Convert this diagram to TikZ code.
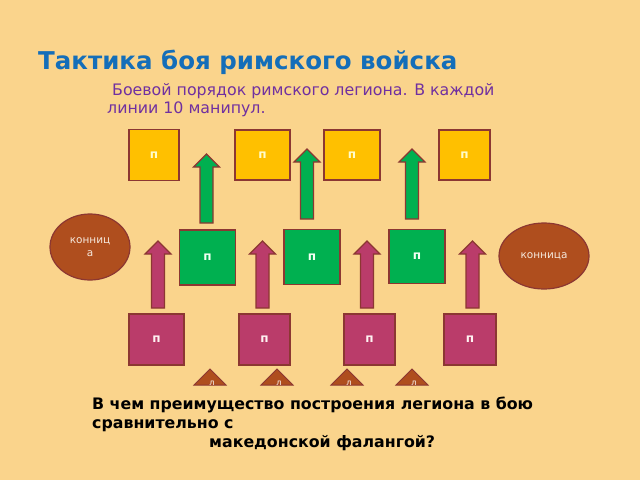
\documentclass[tikz,border=0pt]{standalone}
\usepackage{fontspec}
\setmainfont{DejaVu Sans}
\usetikzlibrary{positioning, shapes.geometric}

\definecolor{bgsand}{RGB}{250,212,140}
\definecolor{titleblue}{RGB}{20,110,185}
\definecolor{subpurple}{RGB}{112,48,160}
\definecolor{boxyellow}{RGB}{255,192,0}
\definecolor{boxgreen}{RGB}{0,176,80}
\definecolor{boxrose}{RGB}{186,60,106}
\definecolor{horsebrown}{RGB}{175,78,30}
\definecolor{edgebrown}{RGB}{140,55,50}
\definecolor{paletext}{RGB}{245,232,220}

% block arrow: colour, x, tip y, bottom y
\newcommand{\blockup}[4]{
	\draw[blockarrow, fill=#1] ({#2-6.5},#4) -- ({#2-6.5},{#3+13}) -- ({#2-13},{#3+13}) -- (#2,#3)
		-- ({#2+13},{#3+13}) -- ({#2+6.5},{#3+13}) -- ({#2+6.5},#4) -- cycle;
}

\begin{document}
\begin{tikzpicture}[x=1pt, y=-1pt, line join=miter]
	
	\tikzset{
		manip/.style={draw=edgebrown, line width=1.2pt, inner sep=0pt, text=white,
			minimum width=51pt, minimum height=51pt, font=\fontsize{12}{12}\selectfont\bfseries},
		hastati/.style={manip, fill=boxyellow, text=yellow!20},
		principes/.style={manip, fill=boxgreen, text=green!5},
		triarii/.style={manip, fill=boxrose, text=red!5},
		cavalry/.style={ellipse, draw=edgebrown, line width=1.2pt, fill=horsebrown, text=paletext,
			inner sep=0pt, align=center, font=\fontsize{10.5}{13}\selectfont},
		blockarrow/.style={draw=edgebrown, line width=1.2pt},
		velite/.style={draw=edgebrown, line width=1pt, fill=horsebrown},
		velitetxt/.style={text=white, inner sep=0pt, font=\fontsize{8}{8}\selectfont},
		caption/.style={anchor=base west, inner sep=0pt}
	}
	
	\useasboundingbox[fill=bgsand] (0,0) rectangle (640,480);
	
	\node[caption, text=titleblue, font=\fontsize{24.5}{24.5}\selectfont\bfseries] (title) at (38,69)
		{Тактика боя римского войска};
	\node[caption, text=subpurple, font=\fontsize{15.8}{15.8}\selectfont] (sub1) at (112,95)
		{Боевой порядок римского легиона. В каждой};
	\node[caption, text=subpurple, font=\fontsize{15.8}{15.8}\selectfont] (sub2) at (107,113)
		{линии 10 манипул.};
	
	% first line
	\node[hastati, minimum width=50pt] (h1) at (154,155) {п};
	\node[hastati, minimum width=55pt, minimum height=50pt] (h2) at (262.5,155) {п};
	\node[hastati, minimum width=56pt, minimum height=50pt] (h3) at (352,155) {п};
	\node[hastati, minimum height=50pt] (h4) at (464.5,155) {п};
	
	\blockup{boxgreen}{206.5}{154}{223}
	\blockup{boxgreen}{307}{149}{219}
	\blockup{boxgreen}{412}{149}{219}
	
	% second line
	\node[principes, minimum width=56pt, minimum height=55pt] (p1) at (207.5,257.5) {п};
	\node[principes, minimum width=56pt, minimum height=55pt] (p2) at (312,257) {п};
	\node[principes, minimum width=56pt, minimum height=54pt] (p3) at (417,256.5) {п};
	
	\node[cavalry, minimum width=80pt, minimum height=66pt] (cavL) at (90,247) {конниц\\а};
	\node[cavalry, minimum width=90pt, minimum height=66pt] (cavR) at (544,256) {конница};
	
	\blockup{boxrose}{158}{241}{308}
	\blockup{boxrose}{262.5}{241}{308}
	\blockup{boxrose}{367}{241}{308}
	\blockup{boxrose}{472.5}{241}{308}
	
	% third line
	\node[triarii, minimum width=55pt] (t1) at (156.5,339.5) {п};
	\node[triarii] (t2) at (264.5,339.5) {п};
	\node[triarii] (t3) at (369.5,339.5) {п};
	\node[triarii, minimum width=52pt] (t4) at (470,339.5) {п};
	
	\begin{scope}
		\clip (0,0) rectangle (640,385.5);
		\foreach \vx [count=\i] in {210,277,347,412}{
			\draw[velite] ({\vx-16},385) -- (\vx,369) -- ({\vx+16},385) -- cycle;
			\node[velitetxt] (v\i) at ({\vx+2},383) {л};
		}
	\end{scope}
	
	\node[caption, font=\fontsize{15.8}{15.8}\selectfont\bfseries] (q1) at (92,409)
		{В чем преимущество построения легиона в бою};
	\node[caption, font=\fontsize{15.8}{15.8}\selectfont\bfseries] (q2) at (92,428)
		{сравнительно с};
	\node[caption, font=\fontsize{15.8}{15.8}\selectfont\bfseries] (q3) at (209,447)
		{македонской фалангой?};
	
\end{tikzpicture}
\end{document}
